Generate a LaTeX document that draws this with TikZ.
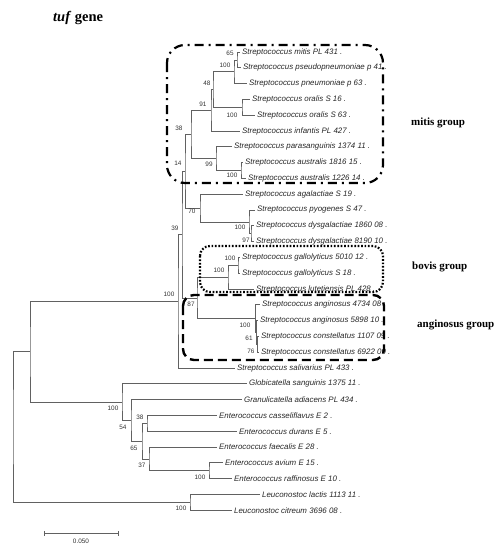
\documentclass[tikz,border=0pt]{standalone}
\usepackage{fontspec}
\setmainfont{Liberation Serif}
\setsansfont{Liberation Sans}
\begin{document}
\begin{tikzpicture}[x=1pt,y=-1pt,
  br/.style={draw=black!62, line width=0.7pt},
  leaf/.style={anchor=west, inner sep=0pt, font=\sffamily\itshape\fontsize{7.9}{9}\selectfont, text=black!85},
  boot/.style={inner sep=0pt, font=\sffamily\fontsize{6.4}{7}\selectfont, text=black!80},
  grp/.style={anchor=west, inner sep=0pt, font=\rmfamily\bfseries\fontsize{11}{13}\selectfont},
  mitisbox/.style={draw=black, line width=2.2pt, rounded corners=18pt, dash pattern=on 9pt off 5pt on 2pt off 5pt},
  bovisbox/.style={draw=black, line width=2.2pt, rounded corners=10pt, dash pattern=on 1.7pt off 1.7pt},
  angbox/.style={draw=black, line width=2.4pt, rounded corners=11pt, dash pattern=on 9pt off 5pt}]
\useasboundingbox (0,0) rectangle (502,550);

% title
\node[anchor=west, inner sep=0pt, font=\rmfamily\bfseries\fontsize{14.5}{16}\selectfont] (title) at (53,18) {\textit{tuf} gene};

% leaf tips
\coordinate (l1) at (240,52.0);
\coordinate (l2) at (241,67.8);
\coordinate (l3) at (247,83.6);
\coordinate (l4) at (250,99.4);
\coordinate (l5) at (255,115.2);
\coordinate (l6) at (240,131.0);
\coordinate (l7) at (232,146.8);
\coordinate (l8) at (243,162.6);
\coordinate (l9) at (246,178.4);
\coordinate (l10) at (243,194.2);
\coordinate (l11) at (255,210.0);
\coordinate (l12) at (254,225.8);
\coordinate (l13) at (254,241.6);
\coordinate (l14) at (240,257.4);
\coordinate (l15) at (240,273.2);
\coordinate (l16) at (254,289.0);
\coordinate (l17) at (260,304.8);
\coordinate (l18) at (258,320.6);
\coordinate (l19) at (259,336.4);
\coordinate (l20) at (259,352.2);
\coordinate (l21) at (235,368.0);
\coordinate (l22) at (247,383.8);
\coordinate (l23) at (242,399.6);
\coordinate (l24) at (217,415.4);
\coordinate (l25) at (237,431.2);
\coordinate (l26) at (217,447.0);
\coordinate (l27) at (223,462.8);
\coordinate (l28) at (232,478.6);
\coordinate (l29) at (260,494.4);
\coordinate (l30) at (232,510.2);

% leaf labels
\node[leaf] (t1) at ([xshift=2pt]l1) {Streptococcus mitis PL 431 .};
\node[leaf] (t2) at ([xshift=2pt]l2) {Streptococcus pseudopneumoniae p 41 .};
\node[leaf] (t3) at ([xshift=2pt]l3) {Streptococcus pneumoniae p 63 .};
\node[leaf] (t4) at ([xshift=2pt]l4) {Streptococcus oralis S 16 .};
\node[leaf] (t5) at ([xshift=2pt]l5) {Streptococcus oralis S 63 .};
\node[leaf] (t6) at ([xshift=2pt]l6) {Streptococcus infantis PL 427 .};
\node[leaf] (t7) at ([xshift=2pt]l7) {Streptococcus parasanguinis 1374 11 .};
\node[leaf] (t8) at ([xshift=2pt]l8) {Streptococcus australis 1816 15 .};
\node[leaf] (t9) at ([xshift=2pt]l9) {Streptococcus australis 1226 14 .};
\node[leaf] (t10) at ([xshift=2pt]l10) {Streptococcus agalactiae S 19 .};
\node[leaf] (t11) at ([xshift=2pt]l11) {Streptococcus pyogenes S 47 .};
\node[leaf] (t12) at ([xshift=2pt]l12) {Streptococcus dysgalactiae 1860 08 .};
\node[leaf] (t13) at ([xshift=2pt]l13) {Streptococcus dysgalactiae 8190 10 .};
\node[leaf] (t14) at ([xshift=2pt]l14) {Streptococcus gallolyticus 5010 12 .};
\node[leaf] (t15) at ([xshift=2pt]l15) {Streptococcus gallolyticus S 18 .};
\node[leaf] (t16) at ([xshift=2pt]l16) {Streptococcus lutetiensis PL 428 .};
\node[leaf] (t17) at ([xshift=2pt]l17) {Streptococcus anginosus 4734 08 .};
\node[leaf] (t18) at ([xshift=2pt]l18) {Streptococcus anginosus 5898 10 .};
\node[leaf] (t19) at ([xshift=2pt]l19) {Streptococcus constellatus 1107 09 .};
\node[leaf] (t20) at ([xshift=2pt]l20) {Streptococcus constellatus 6922 09 .};
\node[leaf] (t21) at ([xshift=2pt]l21) {Streptococcus salivarius PL 433 .};
\node[leaf] (t22) at ([xshift=2pt]l22) {Globicatella sanguinis 1375 11 .};
\node[leaf] (t23) at ([xshift=2pt]l23) {Granulicatella adiacens PL 434 .};
\node[leaf] (t24) at ([xshift=2pt]l24) {Enterococcus casseliflavus E 2 .};
\node[leaf] (t25) at ([xshift=2pt]l25) {Enterococcus durans E 5 .};
\node[leaf] (t26) at ([xshift=2pt]l26) {Enterococcus faecalis E 28 .};
\node[leaf] (t27) at ([xshift=2pt]l27) {Enterococcus avium E 15 .};
\node[leaf] (t28) at ([xshift=2pt]l28) {Enterococcus raffinosus E 10 .};
\node[leaf] (t29) at ([xshift=2pt]l29) {Leuconostoc lactis 1113 11 .};
\node[leaf] (t30) at ([xshift=2pt]l30) {Leuconostoc citreum 3696 08 .};

% internal nodes
\coordinate (n65) at (237,59.9);
\coordinate (n100a) at (234,71.75);
\coordinate (nOr) at (242,107.3);
\coordinate (n48) at (213,89.5);
\coordinate (n91) at (211,110.25);
\coordinate (nAu) at (241,170.5);
\coordinate (n99) at (216,158.65);
\coordinate (n38) at (191,134.45);
\coordinate (n97) at (251,233.7);
\coordinate (nPy) at (249,221.85);
\coordinate (n70) at (200,208.0);
\coordinate (n14) at (185,171.2);
\coordinate (nGa) at (238,265.3);
\coordinate (nBo) at (228,277.15);
\coordinate (n76) at (257.5,344.3);
\coordinate (n61) at (256.5,332.45);
\coordinate (nAn) at (255.5,318.6);
\coordinate (n87) at (197,297.9);
\coordinate (n39) at (182,234.5);
\coordinate (nS) at (178,301.25);
\coordinate (n38e) at (147,423.3);
\coordinate (nAv) at (209,470.7);
\coordinate (n37) at (149,458.85);
\coordinate (n65e) at (142,441.1);
\coordinate (n54) at (131,420.35);
\coordinate (nG) at (122,402.1);
\coordinate (nA) at (30,351.7);
\coordinate (nLe) at (190,502.3);
\coordinate (root) at (13,427.0);

% branches
\draw[br] (l1) -| (n65) |- (l2);
\draw[br] (n65) -| (n100a) |- (l3);
\draw[br] (l4) -| (nOr) |- (l5);
\draw[br] (n100a) -| (n48) |- (nOr);
\draw[br] (n48) -| (n91) |- (l6);
\draw[br] (l8) -| (nAu) |- (l9);
\draw[br] (l7) -| (n99) |- (nAu);
\draw[br] (n91) -| (n38) |- (n99);
\draw[br] (l12) -| (n97) |- (l13);
\draw[br] (l11) -| (nPy) |- (n97);
\draw[br] (l10) -| (n70) |- (nPy);
\draw[br] (n38) -| (n14) |- (n70);
\draw[br] (l14) -| (nGa) |- (l15);
\draw[br] (nGa) -| (nBo) |- (l16);
\draw[br] (l19) -| (n76) |- (l20);
\draw[br] (l18) -| (n61) |- (n76);
\draw[br] (l17) -| (nAn) |- (n61);
\draw[br] (nBo) -| (n87) |- (nAn);
\draw[br] (n14) -| (n39) |- (n87);
\draw[br] (n39) -| (nS) |- (l21);
\draw[br] (l24) -| (n38e) |- (l25);
\draw[br] (l27) -| (nAv) |- (l28);
\draw[br] (l26) -| (n37) |- (nAv);
\draw[br] (n38e) -| (n65e) |- (n37);
\draw[br] (l23) -| (n54) |- (n65e);
\draw[br] (l22) -| (nG) |- (n54);
\draw[br] (nS) -| (nA) |- (nG);
\draw[br] (l29) -| (nLe) |- (l30);
\draw[br] (nA) -| (root) |- (nLe);

% bootstrap values
\node[boot] (b65) at (230,53) {65};
\node[boot] (b100a) at (225,65) {100};
\node[boot] (b48) at (207,83) {48};
\node[boot] (bOr) at (232,115) {100};
\node[boot] (b91) at (203,104) {91};
\node[boot] (b38) at (179,128) {38};
\node[boot] (b99) at (209,164) {99};
\node[boot] (bAu) at (232,175) {100};
\node[boot] (b14) at (178,163) {14};
\node[boot] (b70) at (192,211) {70};
\node[boot] (bPy) at (240,227) {100};
\node[boot] (b97) at (246,240) {97};
\node[boot] (b39) at (175,228) {39};
\node[boot] (bGa) at (230,258) {100};
\node[boot] (bBo) at (219,270) {100};
\node[boot] (bS) at (169,294) {100};
\node[boot] (b87) at (191,304) {87};
\node[boot] (bAn) at (245,325) {100};
\node[boot] (b61) at (249,338) {61};
\node[boot] (b76) at (251,351) {76};
\node[boot] (bG) at (113,408) {100};
\node[boot] (b54) at (123,427) {54};
\node[boot] (b38e) at (140,417) {38};
\node[boot] (b65e) at (134,448) {65};
\node[boot] (b37) at (142,465) {37};
\node[boot] (bAv) at (200,477) {100};
\node[boot] (bLe) at (181,508) {100};

% group boxes
\draw[mitisbox] (167,45) rectangle (383,183);
\draw[bovisbox] (200,246) rectangle (383,292);
\draw[angbox] (183,295) rectangle (384,360);

% group labels
\node[grp] (gmitis) at (411,123) {mitis group};
\node[grp] (gbovis) at (412,267) {bovis group};
\node[grp] (gang) at (417,325) {anginosus group};

% scale bar
\coordinate (sb1) at (44,533);
\coordinate (sb2) at (118,533);
\draw[br] (sb1) -- (sb2);
\draw[br] ([yshift=-2.5pt]sb1) -- ([yshift=2.5pt]sb1);
\draw[br] ([yshift=-2.5pt]sb2) -- ([yshift=2.5pt]sb2);
\node[boot] (sblab) at (81,541) {0.050};
\end{tikzpicture}
\end{document}
